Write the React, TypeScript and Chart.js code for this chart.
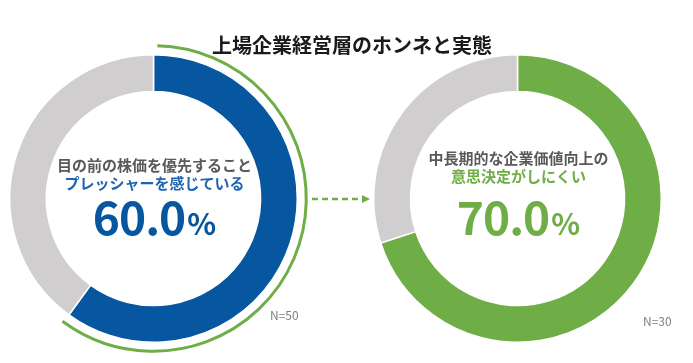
import React, { useEffect, useRef } from "react";
import { Chart, registerables } from "chart.js";

Chart.register(...registerables);

const title = "上場企業経営層のホンネと実態";

const leftLabels = ["プレッシャーを感じている", "その他"];
const leftValues = [60, 40];
const leftLine1 = "目の前の株価を優先すること";
const leftLine2 = "プレッシャーを感じている";
const leftN = "N=50";

const rightLabels = ["意思決定がしにくい", "その他"];
const rightValues = [70, 30];
const rightLine1 = "中長期的な企業価値向上の";
const rightLine2 = "意思決定がしにくい";
const rightN = "N=30";

const BLUE = "#0756A0";
const BLUE_TEXT = "#1E64B0";
const GREEN = "#6FAD46";
const GRAY = "#D0CECF";
const TEXT_GRAY = "#595959";
const FONT = '"Noto Sans CJK JP", "Noto Sans", sans-serif';

const W = 693;
const H = 363;

function pctText(v: number) {
  return v.toFixed(1);
}

function drawCenter(
  ctx: CanvasRenderingContext2D,
  cx: number,
  ys: number[],
  line1: string,
  line2: string,
  color2: string,
  value: number,
  bigColor: string
) {
  ctx.save();
  ctx.textAlign = "center";
  ctx.textBaseline = "middle";
  ctx.font = `bold 15px ${FONT}`;
  ctx.fillStyle = TEXT_GRAY;
  ctx.fillText(line1, cx, ys[0]);
  ctx.fillStyle = color2;
  ctx.fillText(line2, cx, ys[1]);
  // big number
  const num = pctText(value);
  ctx.textBaseline = "alphabetic";
  (ctx as any).letterSpacing = "-1px";
  ctx.font = `bold 46px ${FONT}`;
  const wNum = ctx.measureText(num).width;
  (ctx as any).letterSpacing = "0px";
  ctx.font = `bold 30px ${FONT}`;
  const wPct = ctx.measureText("%").width;
  const gap = 2;
  const total = wNum + wPct + gap;
  const x0 = cx - total / 2;
  ctx.textAlign = "left";
  ctx.fillStyle = bigColor;
  (ctx as any).letterSpacing = "-1px";
  ctx.font = `bold 46px ${FONT}`;
  ctx.fillText(num, x0, ys[2]);
  (ctx as any).letterSpacing = "0px";
  ctx.font = `bold 30px ${FONT}`;
  ctx.fillText("%", x0 + wNum + gap, ys[2]);
  ctx.restore();
}

export default function App() {
  const leftRef = useRef<HTMLCanvasElement>(null);
  const rightRef = useRef<HTMLCanvasElement>(null);

  useEffect(() => {
    const leftPlugin = {
      id: "leftDecor",
      afterDraw(chart: any) {
        const ctx: CanvasRenderingContext2D = chart.ctx;
        const arc = chart.getDatasetMeta(0).data[0];
        const cx = arc.x;
        const cy = arc.y;
        const r = arc.outerRadius + 9;
        const frac = leftValues[0] / leftValues.reduce((a, b) => a + b, 0);
        // title
        ctx.save();
        ctx.font = `bold 20px ${FONT}`;
        ctx.fillStyle = "#1a1a1a";
        ctx.textAlign = "center";
        ctx.textBaseline = "middle";
        ctx.fillText(title, 352, 45);
        ctx.restore();
        // outer green arc
        ctx.save();
        ctx.strokeStyle = GREEN;
        ctx.lineWidth = 3;
        ctx.lineCap = "butt";
        ctx.beginPath();
        ctx.arc(cx, cy, r, -Math.PI / 2 + 0.025, -Math.PI / 2 + frac * Math.PI * 2 + 0.01);
        ctx.stroke();
        ctx.restore();
        // dashed arrow
        ctx.save();
        ctx.strokeStyle = GREEN;
        ctx.fillStyle = GREEN;
        ctx.lineWidth = 2.5;
        ctx.setLineDash([6, 4]);
        ctx.beginPath();
        ctx.moveTo(312, 199);
        ctx.lineTo(362, 199);
        ctx.stroke();
        ctx.setLineDash([]);
        ctx.beginPath();
        ctx.moveTo(370, 199);
        ctx.lineTo(362, 195);
        ctx.lineTo(362, 203);
        ctx.closePath();
        ctx.fill();
        ctx.restore();
        drawCenter(ctx, cx + 1, [165, 183, 235], leftLine1, leftLine2, BLUE_TEXT, leftValues[0], BLUE);
        ctx.save();
        ctx.font = `12px ${FONT}`;
        ctx.fillStyle = "#7f7f7f";
        ctx.textAlign = "left";
        ctx.textBaseline = "middle";
        ctx.fillText(leftN, 270, 315);
        ctx.restore();
      },
    };

    const rightPlugin = {
      id: "rightDecor",
      afterDraw(chart: any) {
        const ctx: CanvasRenderingContext2D = chart.ctx;
        const arc = chart.getDatasetMeta(0).data[0];
        drawCenter(ctx, arc.x + 1, [158, 176, 235], rightLine1, rightLine2, GREEN, rightValues[0], GREEN);
        ctx.save();
        ctx.font = `12px ${FONT}`;
        ctx.fillStyle = "#7f7f7f";
        ctx.textAlign = "left";
        ctx.textBaseline = "middle";
        ctx.fillText(rightN, 643, 321);
        ctx.restore();
      },
    };

    const common = (padding: any) => ({
      responsive: false,
      animation: false as const,
      cutout: "74.5%",
      layout: { padding },
      plugins: { legend: { display: false }, tooltip: { enabled: false }, title: { display: false } },
      events: [] as any[],
    });

    const left = new Chart(leftRef.current!, {
      type: "doughnut",
      data: {
        labels: leftLabels,
        datasets: [
          {
            data: leftValues,
            backgroundColor: [BLUE, GRAY],
            borderColor: "#ffffff",
            borderWidth: 1.5,
          },
        ],
      },
      options: common({ left: 9, right: W - 298, top: 54, bottom: H - 343 }),
      plugins: [leftPlugin],
    });

    const right = new Chart(rightRef.current!, {
      type: "doughnut",
      data: {
        labels: rightLabels,
        datasets: [
          {
            data: rightValues,
            backgroundColor: [GREEN, GRAY],
            borderColor: "#ffffff",
            borderWidth: 1.5,
          },
        ],
      },
      options: common({ left: 373, right: W - 662, top: 54, bottom: H - 343 }),
      plugins: [rightPlugin],
    });

    return () => {
      left.destroy();
      right.destroy();
    };
  }, []);

  return (
    <div style={{ position: "fixed", left: 0, top: 0, width: W, height: H, background: "#fff" }}>
      <canvas ref={leftRef} width={W} height={H} style={{ position: "absolute", left: 0, top: 0 }} />
      <canvas ref={rightRef} width={W} height={H} style={{ position: "absolute", left: 0, top: 0 }} />
    </div>
  );
}
